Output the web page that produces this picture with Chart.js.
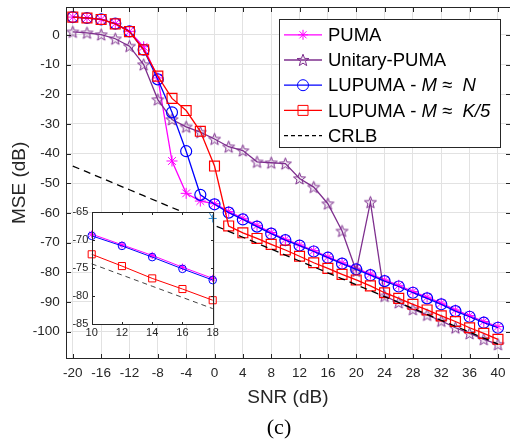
<!DOCTYPE html>
<html>
<head>
<meta charset="utf-8">
<script src="https://cdn.jsdelivr.net/npm/chart.js@4.4.1/dist/chart.umd.min.js"></script>
<style>
  html, body { margin: 0; padding: 0; background: #fff; }
  #wrap { position: relative; width: 510px; height: 443px; }
  #wrap canvas { position: absolute; left: 0; top: 0; }
</style>
</head>
<body>
<div id="wrap">
  <canvas id="mainChart" width="510" height="443"></canvas>
  <canvas id="insetChart" width="510" height="443"></canvas>
</div>
<script>
/* MSE vs SNR - PUMA family with CRLB, plus zoomed inset */

// SNR grid (dB)
const snr = [-20, -18, -16, -14, -12, -10, -8, -6, -4, -2, 0, 2, 4, 6, 8, 10,
             12, 14, 16, 18, 20, 22, 24, 26, 28, 30, 32, 34, 36, 38, 40];

// MSE (dB)
const puma = [6.0, 5.7, 5.2, 3.8, 1.2, -4.0, -14.5, -42.5, -53.4, -56.0, -56.9,
              -59.5, -61.8, -64.2, -66.6, -68.9, -70.8, -72.7, -74.8, -76.8, -78.6,
              -80.6, -82.6, -84.4, -86.5, -88.4, -90.4, -92.7, -94.6, -96.6, -98.3];
const unitaryPuma = [1.0, 0.7, 0.1, -1.3, -3.8, -10.0, -21.8, -28.5, -31.0, -32.8, -35.1,
                     -37.7, -39.0, -42.8, -43.1, -43.4, -48.4, -51.3, -56.9, -66.1, -79.6,
                     -56.4, -88.0, -90.2, -92.5, -94.4, -96.4, -98.7, -100.6, -102.6, -104.3];
const lupumaN = [6.0, 5.7, 5.2, 3.8, 1.2, -5.0, -15.0, -26.1, -39.2, -53.9, -57.1,
                 -59.9, -62.2, -64.6, -67.0, -69.2, -71.0, -73.0, -75.1, -77.1, -79.0,
                 -81.0, -83.0, -84.8, -86.9, -88.8, -90.8, -93.1, -95.0, -97.0, -98.7];
const lupumaK5 = [6.0, 5.7, 5.2, 3.7, 1.1, -5.0, -13.9, -21.4, -25.5, -32.5, -44.2,
                  -64.4, -66.7, -68.6, -70.6, -72.5, -74.6, -76.8, -78.7, -80.7, -82.6,
                  -84.6, -86.9, -88.8, -90.8, -92.7, -94.7, -96.6, -98.7, -100.6, -102.6];
const crlb = [-44.2, -46.2, -48.2, -50.2, -52.2, -54.2, -56.2, -58.2, -60.2, -62.2, -64.2,
              -66.2, -68.2, -70.2, -72.2, -74.2, -76.2, -78.2, -80.2, -82.2, -84.2,
              -86.2, -88.2, -90.2, -92.2, -94.2, -96.2, -98.2, -100.2, -102.2, -104.2];

// tick values
const xTicks = [-20, -16, -12, -8, -4, 0, 4, 8, 12, 16, 20, 24, 28, 32, 36, 40];
const yTicks = [-100, -90, -80, -70, -60, -50, -40, -30, -20, -10, 0];
const insetXTicks = [10, 12, 14, 16, 18];
const insetYTicks = [-85, -80, -75, -70, -65];

const legendLabels = ['PUMA', 'Unitary-PUMA', 'LUPUMA - M \u2248  N', 'LUPUMA - M \u2248  K/5', 'CRLB'];
const italicTokens = ['M', 'N', 'K/5'];

const FONT = '"Liberation Sans", Arial, Helvetica, sans-serif';
const AXIS = '#262626';
const COLORS = {
    puma: '#ff00ff',
    unitary: '#7e2f8e',
    unitaryInset: '#2e8bd4',
    lupumaN: '#0000ff',
    lupumaK5: '#ff0000',
    crlb: '#000000'
};

Chart.defaults.font.family = FONT;
Chart.defaults.color = AXIS;

// five pointed star marker, drawn once into a small canvas
const makeStar = (r, color) => {
    const size = Math.ceil(r * 2 + 4);
    const c = document.createElement('canvas');
    c.width = size; c.height = size;
    const g = c.getContext('2d');
    starPath(g, size / 2, size / 2 + 0.5, r);
    g.fillStyle = 'rgba(126,47,142,0.08)';
    g.fill();
    g.strokeStyle = color;
    g.lineWidth = 1;
    g.stroke();
    return c;
};

function starPath(g, cx, cy, r) {
    g.beginPath();
    for (let i = 0; i < 10; i++) {
        const rr = i % 2 ? r * 0.42 : r;
        const a = -Math.PI / 2 + i * Math.PI / 5;
        g.lineTo(cx + rr * Math.cos(a), cy + rr * Math.sin(a));
    }
    g.closePath();
}

const starMarker = makeStar(6.3, COLORS.unitary);

const toPoints = (ys, keep) => snr
    .map((x, i) => ({ x: x, y: ys[i] }))
    .filter(p => !keep || keep(p.x));

const line = (ys, color, extra, keep) => Object.assign({
    data: toPoints(ys, keep),
    borderColor: color,
    backgroundColor: 'rgba(0,0,0,0)',
    pointBorderColor: color,
    pointBackgroundColor: 'rgba(0,0,0,0)',
    borderWidth: 1.3,
    pointBorderWidth: 1,
    tension: 0
}, extra);

const setTicks = list => scale => { scale.ticks = list.map(v => ({ value: v })); };

// fixed axis size, and no extra room reserved for edge labels
const fixSize = (w, h) => s => {
    if (w !== null) s.width = w;
    if (h !== null) s.height = h;
    s.paddingTop = 0; s.paddingBottom = 0;
    s.paddingLeft = 0; s.paddingRight = 0;
};

// axes box + inward ticks
function drawFrame(chart, tl, xs, ys) {
    const { ctx, chartArea: a, scales } = chart;
    const L = Math.round(a.left) + 0.5, R = Math.round(a.right) + 0.5;
    const T = Math.round(a.top) + 0.5, B = Math.round(a.bottom) + 0.5;
    ctx.save();
    ctx.strokeStyle = AXIS;
    ctx.lineWidth = 1;
    ctx.strokeRect(L, T, R - L, B - T);
    ctx.beginPath();
    xs.forEach(v => {
        const px = Math.round(scales.x.getPixelForValue(v)) + 0.5;
        ctx.moveTo(px, B); ctx.lineTo(px, B - tl);
        ctx.moveTo(px, T); ctx.lineTo(px, T + tl);
    });
    ys.forEach(v => {
        const py = Math.round(scales.y.getPixelForValue(v)) + 0.5;
        ctx.moveTo(L, py); ctx.lineTo(L + tl, py);
        ctx.moveTo(R, py); ctx.lineTo(R - tl, py);
    });
    ctx.stroke();
    ctx.restore();
}

function legendMarker(ctx, kind, x, y) {
    ctx.beginPath();
    if (kind === 'asterisk') {
        const r = 5;
        for (let k = 0; k < 4; k++) {
            const a = k * Math.PI / 4;
            ctx.moveTo(x - r * Math.cos(a), y - r * Math.sin(a));
            ctx.lineTo(x + r * Math.cos(a), y + r * Math.sin(a));
        }
        ctx.stroke();
    } else if (kind === 'star') {
        starPath(ctx, x, y + 0.5, 6.3);
        ctx.fillStyle = 'rgba(126,47,142,0.08)';
        ctx.fill();
        ctx.stroke();
    } else if (kind === 'circle') {
        ctx.arc(x, y, 5.5, 0, Math.PI * 2);
        ctx.stroke();
    } else if (kind === 'square') {
        ctx.rect(x - 5, y - 5, 10, 10);
        ctx.stroke();
    }
}

const legendStyles = [
    { color: COLORS.puma, marker: 'asterisk' },
    { color: COLORS.unitary, marker: 'star' },
    { color: COLORS.lupumaN, marker: 'circle' },
    { color: COLORS.lupumaK5, marker: 'square' },
    { color: COLORS.crlb, marker: null, dash: [4, 3] }
];

const mainDecor = {
    id: 'mainDecor',
    afterDraw(chart) {
        const { ctx, chartArea: a } = chart;
        drawFrame(chart, 4.5, xTicks, yTicks);

        ctx.save();
        ctx.fillStyle = AXIS;
        // axis titles
        ctx.font = '19px ' + FONT;
        ctx.textAlign = 'center';
        ctx.textBaseline = 'alphabetic';
        ctx.fillText('SNR (dB)', (a.left + a.right) / 2, 402.5);
        ctx.save();
        ctx.translate(25, (a.top + a.bottom) / 2);
        ctx.rotate(-Math.PI / 2);
        ctx.fillText('MSE (dB)', 0, 0);
        ctx.restore();
        // sub-figure caption
        ctx.fillStyle = '#000';
        ctx.font = '22px "Liberation Serif", "Times New Roman", serif';
        ctx.fillText('(c)', 279, 434);

        // legend
        const box = { x: 279.5, y: 19.5, w: 221, h: 128 };
        ctx.fillStyle = '#fff';
        ctx.fillRect(box.x, box.y, box.w, box.h);
        ctx.strokeStyle = AXIS;
        ctx.lineWidth = 1;
        ctx.strokeRect(box.x, box.y, box.w, box.h);
        const size = 18.5;
        legendLabels.forEach((label, i) => {
            const st = legendStyles[i];
            const cy = 34.3 + i * 25.2;
            ctx.save();
            ctx.strokeStyle = st.color;
            ctx.lineWidth = 1.3;
            ctx.setLineDash(st.dash || []);
            ctx.beginPath();
            ctx.moveTo(284, cy + 0.5);
            ctx.lineTo(322, cy + 0.5);
            ctx.stroke();
            ctx.setLineDash([]);
            ctx.lineWidth = 1;
            if (st.marker) legendMarker(ctx, st.marker, 303, cy + 0.5);
            ctx.restore();

            // text with italic symbols
            let tx = 328;
            ctx.fillStyle = '#000';
            ctx.textAlign = 'left';
            label.split(/( )/).forEach(tok => {
                ctx.font = (italicTokens.includes(tok) ? 'italic ' : '') + size + 'px ' + FONT;
                ctx.fillText(tok, tx, cy + size * 0.36);
                tx += ctx.measureText(tok).width;
            });
        });
        ctx.restore();
    }
};

new Chart(document.getElementById('mainChart'), {
    type: 'line',
    data: {
        datasets: [
            line(puma, COLORS.puma, { pointStyle: 'star', pointRadius: 5.5, order: 5 }),
            line(unitaryPuma, COLORS.unitary, { pointStyle: starMarker, order: 4 }),
            line(lupumaN, COLORS.lupumaN, { pointStyle: 'circle', pointRadius: 5.5, pointBorderWidth: 1.2, order: 3 }),
            line(lupumaK5, COLORS.lupumaK5, { pointStyle: 'rect', pointRadius: 7, pointBorderWidth: 1.2, order: 2 }),
            line(crlb, COLORS.crlb, { pointRadius: 0, borderDash: [7, 5], order: 1 })
        ]
    },
    options: {
        responsive: false,
        animation: false,
        devicePixelRatio: 1,
        layout: { autoPadding: false, padding: { top: 7.3, left: 0, right: 0, bottom: 0 } },
        plugins: { legend: { display: false }, tooltip: { enabled: false } },
        scales: {
            x: {
                type: 'linear', min: -21, max: 41.7,
                afterBuildTicks: setTicks(xTicks),
                afterFit: fixSize(null, 84.7),
                grid: { color: '#e2e2e2', drawTicks: false },
                border: { display: false },
                ticks: { padding: 7, maxRotation: 0, autoSkip: false, color: AXIS, font: { size: 13.5 } }
            },
            y: {
                type: 'linear', min: -109, max: 9.3,
                afterBuildTicks: setTicks(yTicks),
                afterFit: fixSize(65.7, null),
                grid: { color: '#e2e2e2', drawTicks: false },
                border: { display: false },
                ticks: { padding: 6, autoSkip: false, color: AXIS, font: { size: 13.5 } }
            }
        }
    },
    plugins: [mainDecor]
});

// zoomed inset, 10..18 dB
const inRange = x => x >= 10 && x <= 18;
const insetClip = { left: false, right: false, top: 0, bottom: 0 };

const insetDecor = {
    id: 'insetDecor',
    beforeDatasetsDraw(chart) {
        const { ctx, chartArea: a } = chart;
        ctx.save();
        ctx.fillStyle = '#fff';
        ctx.fillRect(a.left, a.top, a.right - a.left, a.bottom - a.top);
        ctx.restore();
    },
    afterDraw(chart) {
        drawFrame(chart, 2.5, insetXTicks, insetYTicks);
    }
};

new Chart(document.getElementById('insetChart'), {
    type: 'line',
    data: {
        datasets: [
            line(puma, COLORS.puma, { pointStyle: 'star', pointRadius: 3.6, borderWidth: 1, clip: insetClip, order: 5 }, inRange),
            line(unitaryPuma, COLORS.unitaryInset, { pointStyle: 'cross', pointRadius: 4, borderWidth: 1, clip: insetClip, order: 4 }, inRange),
            line(lupumaN, COLORS.lupumaN, { pointStyle: 'circle', pointRadius: 3.8, borderWidth: 1, clip: insetClip, order: 3 }, inRange),
            line(lupumaK5, COLORS.lupumaK5, { pointStyle: 'rect', pointRadius: 5, borderWidth: 1, clip: insetClip, order: 2 }, inRange),
            line(crlb, '#444444', { pointRadius: 0, borderWidth: 1, borderDash: [5, 4], clip: insetClip, order: 1 }, inRange)
        ]
    },
    options: {
        responsive: false,
        animation: false,
        devicePixelRatio: 1,
        layout: { autoPadding: false, padding: { top: 212.3, left: 61.7, right: 297.3, bottom: 98.7 } },
        plugins: { legend: { display: false }, tooltip: { enabled: false } },
        scales: {
            x: {
                type: 'linear', min: 10, max: 18,
                afterBuildTicks: setTicks(insetXTicks),
                afterFit: fixSize(null, 20),
                grid: { display: false, drawTicks: false },
                border: { display: false },
                ticks: { padding: 2.4, maxRotation: 0, autoSkip: false, color: AXIS, font: { size: 11 } }
            },
            y: {
                type: 'linear', min: -85, max: -65,
                afterBuildTicks: setTicks(insetYTicks),
                afterFit: fixSize(30, null),
                grid: { display: false, drawTicks: false },
                border: { display: false },
                ticks: { padding: 3.4, autoSkip: false, color: AXIS, font: { size: 11 } }
            }
        }
    },
    plugins: [insetDecor]
});
</script>
</body>
</html>
